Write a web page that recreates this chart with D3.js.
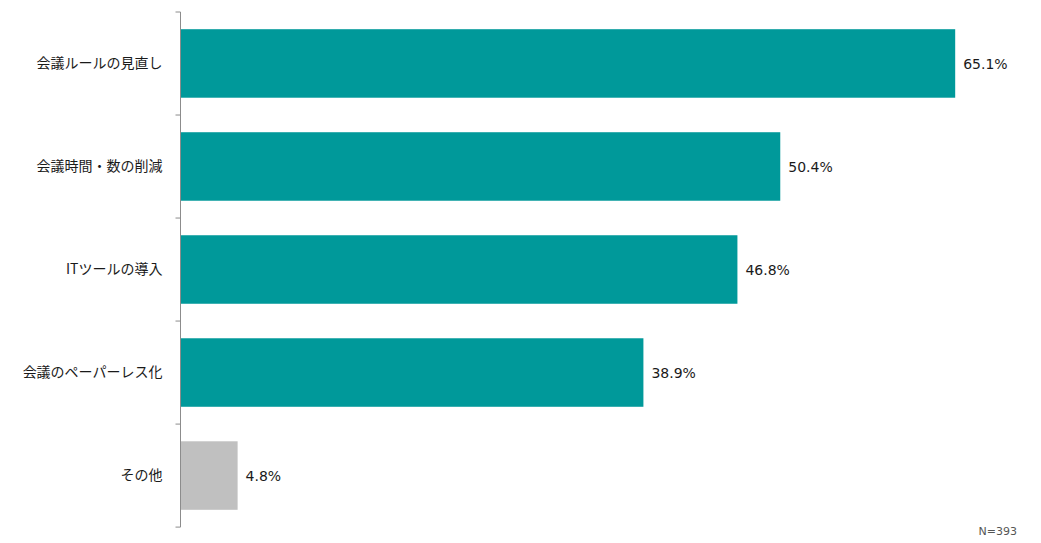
<!DOCTYPE html>
<html>
<head>
<meta charset="utf-8">
<script src="https://cdn.jsdelivr.net/npm/d3@7"></script>
<style>
  body { margin: 0; background: #fff; }
  svg text { font-family: "Noto Sans CJK JP", "Noto Sans", sans-serif; }
  svg text.num { font-family: "DejaVu Sans", Verdana, sans-serif; }
</style>
</head>
<body>
<div id="chart"></div>
<script>
var categories = ["会議ルールの見直し", "会議時間・数の削減", "ITツールの導入", "会議のペーパーレス化", "その他"];
var values = [65.1, 50.4, 46.8, 38.9, 4.8];
var barColors = ["#00999A", "#00999A", "#00999A", "#00999A", "#C0C0C0"];
var sampleNote = "N=393";

var width = 1041,
    height = 543;
var margin = {top: 12, left: 180.5, bottom: 16};

var svg = d3.select("#chart")
    .append("svg")
    .attr("width", width)
    .attr("height", height);

var data = categories.map(function (c, i) {
    return {name: c, value: values[i], color: barColors[i]};
});

// x: 1% is about 11.9px in the reference
var x = d3.scaleLinear()
    .domain([0, 70])
    .range([margin.left, margin.left + 833]);

var y = d3.scaleBand()
    .domain(categories)
    .range([margin.top, height - margin.bottom])
    .paddingInner(0.335)
    .paddingOuter(0.167);

// bars
svg.append("g").attr("class", "g-bars")
    .selectAll("rect")
    .data(data)
    .enter().append("rect")
    .attr("x", x(0))
    .attr("y", function (d) { return y(d.name); })
    .attr("width", function (d) { return x(d.value) - x(0); })
    .attr("height", y.bandwidth())
    .attr("fill", function (d) { return d.color; });

// value labels
svg.append("g").attr("class", "g-values")
    .selectAll("text")
    .data(data)
    .enter().append("text")
    .attr("class", "num")
    .attr("x", function (d) { return x(d.value) + 8; })
    .attr("y", function (d) { return y(d.name) + y.bandwidth() / 2; })
    .attr("dy", "0.38em")
    .attr("fill", "#1a1a1a")
    .attr("font-size", "14px")
    .text(function (d) { return d.value.toFixed(1) + "%"; });

// category axis: ticks sit on band boundaries, labels in band centres
var step = y.step();
var boundaries = d3.range(categories.length + 1).map(function (i) {
    return margin.top + i * step;
});

var gAxis = svg.append("g").attr("class", "g-axis");
gAxis.append("line")
    .attr("x1", x(0)).attr("x2", x(0))
    .attr("y1", boundaries[0]).attr("y2", boundaries[boundaries.length - 1])
    .attr("stroke", "#8c8c8c")
    .attr("stroke-width", 1);
gAxis.selectAll("line.tick")
    .data(boundaries)
    .enter().append("line")
    .attr("class", "tick")
    .attr("x1", x(0) - 5).attr("x2", x(0))
    .attr("y1", function (d) { return d; })
    .attr("y2", function (d) { return d; })
    .attr("stroke", "#8c8c8c")
    .attr("stroke-width", 1);
gAxis.selectAll("text")
    .data(categories)
    .enter().append("text")
    .attr("x", x(0) - 18)
    .attr("y", function (d) { return y(d) + y.bandwidth() / 2; })
    .attr("dy", "0.35em")
    .attr("text-anchor", "end")
    .attr("fill", "#1a1a1a")
    .attr("font-size", "14px")
    .text(function (d) { return d; });

// sample size note
svg.append("text")
    .attr("class", "num")
    .attr("x", 1017)
    .attr("y", 535)
    .attr("text-anchor", "end")
    .attr("fill", "#555")
    .attr("font-size", "11px")
    .text(sampleNote);
</script>
</body>
</html>
